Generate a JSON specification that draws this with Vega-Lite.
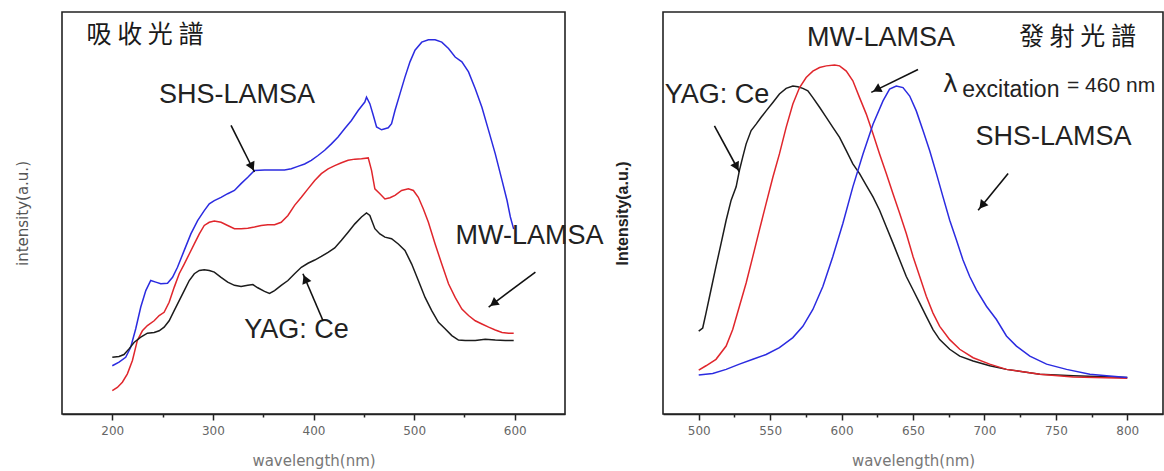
{
  "$schema": "https://vega.github.io/schema/vega-lite/v6.json",
  "background": "white",
  "padding": {"left": 14, "top": 11, "right": 0, "bottom": 0},
  "spacing": 98,
  "bounds": "flush",
  "config": {
    "view": {"stroke": "#222", "strokeWidth": 1.6},
    "axis": {"grid": false},
    "axisX": {
      "domainColor": "#222", "domainWidth": 1.6, "tickColor": "#222", "tickWidth": 1.5,
      "labelFont": "DejaVu Sans", "labelFontSize": 12, "labelColor": "#666", "labelPadding": 5,
      "titleFont": "DejaVu Sans", "titleFontSize": 15, "titleFontWeight": "normal", "titleColor": "#777", "titlePadding": 17
    },
    "axisY": {"domain": false, "ticks": false, "labels": false}
  },
  "datasets": {
    "absorb": [
      {"s":"SHS","x":200.0,"y":12.0},{"s":"SHS","x":206.7,"y":12.9},{"s":"SHS","x":213.3,"y":14.1},{"s":"SHS","x":218.3,"y":16.6},{"s":"SHS","x":223.3,"y":21.2},{"s":"SHS","x":228.3,"y":26.6},{"s":"SHS","x":233.3,"y":30.7},{"s":"SHS","x":238.2,"y":33.2},{"s":"SHS","x":243.2,"y":32.8},{"s":"SHS","x":248.2,"y":32.4},{"s":"SHS","x":254.9,"y":32.5},{"s":"SHS","x":259.9,"y":34.0},{"s":"SHS","x":264.8,"y":36.5},{"s":"SHS","x":271.5,"y":40.7},{"s":"SHS","x":278.1,"y":44.8},{"s":"SHS","x":284.8,"y":48.1},{"s":"SHS","x":291.4,"y":50.6},{"s":"SHS","x":296.4,"y":52.3},{"s":"SHS","x":301.4,"y":53.1},{"s":"SHS","x":308.1,"y":53.9},{"s":"SHS","x":314.7,"y":54.8},{"s":"SHS","x":321.4,"y":55.6},{"s":"SHS","x":328.0,"y":57.3},{"s":"SHS","x":334.7,"y":58.9},{"s":"SHS","x":341.3,"y":60.6},{"s":"SHS","x":351.3,"y":60.7},{"s":"SHS","x":361.3,"y":60.7},{"s":"SHS","x":371.2,"y":60.7},{"s":"SHS","x":377.9,"y":61.0},{"s":"SHS","x":384.5,"y":61.6},{"s":"SHS","x":391.2,"y":62.2},{"s":"SHS","x":397.8,"y":63.1},{"s":"SHS","x":404.5,"y":64.3},{"s":"SHS","x":411.1,"y":65.6},{"s":"SHS","x":417.8,"y":67.2},{"s":"SHS","x":424.4,"y":68.9},{"s":"SHS","x":431.1,"y":71.0},{"s":"SHS","x":437.7,"y":73.0},{"s":"SHS","x":444.4,"y":75.5},{"s":"SHS","x":451.0,"y":77.6},{"s":"SHS","x":452.7,"y":78.8},{"s":"SHS","x":456.0,"y":77.2},{"s":"SHS","x":459.4,"y":74.3},{"s":"SHS","x":462.7,"y":71.4},{"s":"SHS","x":467.7,"y":70.7},{"s":"SHS","x":474.3,"y":71.2},{"s":"SHS","x":477.6,"y":72.2},{"s":"SHS","x":481.0,"y":75.5},{"s":"SHS","x":486.0,"y":79.7},{"s":"SHS","x":490.9,"y":83.8},{"s":"SHS","x":495.9,"y":87.6},{"s":"SHS","x":500.9,"y":90.5},{"s":"SHS","x":507.6,"y":92.5},{"s":"SHS","x":514.2,"y":93.1},{"s":"SHS","x":520.9,"y":93.1},{"s":"SHS","x":527.5,"y":92.5},{"s":"SHS","x":534.2,"y":90.9},{"s":"SHS","x":540.8,"y":88.8},{"s":"SHS","x":547.5,"y":87.6},{"s":"SHS","x":554.1,"y":85.1},{"s":"SHS","x":560.8,"y":80.9},{"s":"SHS","x":567.4,"y":76.3},{"s":"SHS","x":574.1,"y":70.5},{"s":"SHS","x":580.7,"y":64.7},{"s":"SHS","x":587.4,"y":58.1},{"s":"SHS","x":592.4,"y":53.1},{"s":"SHS","x":595.7,"y":49.0},{"s":"SHS","x":599.0,"y":46.0},
      {"s":"MW","x":200.0,"y":5.8},{"s":"MW","x":205.0,"y":6.6},{"s":"MW","x":210.0,"y":7.9},{"s":"MW","x":215.0,"y":10.0},{"s":"MW","x":220.0,"y":13.3},{"s":"MW","x":224.9,"y":18.3},{"s":"MW","x":229.9,"y":20.7},{"s":"MW","x":234.9,"y":22.0},{"s":"MW","x":241.6,"y":23.2},{"s":"MW","x":246.6,"y":24.5},{"s":"MW","x":251.5,"y":25.3},{"s":"MW","x":256.5,"y":27.8},{"s":"MW","x":261.5,"y":31.5},{"s":"MW","x":266.5,"y":34.9},{"s":"MW","x":271.5,"y":37.3},{"s":"MW","x":276.5,"y":39.8},{"s":"MW","x":281.5,"y":42.3},{"s":"MW","x":286.5,"y":44.8},{"s":"MW","x":291.4,"y":46.9},{"s":"MW","x":296.4,"y":47.7},{"s":"MW","x":301.4,"y":48.0},{"s":"MW","x":308.1,"y":47.7},{"s":"MW","x":314.7,"y":46.9},{"s":"MW","x":321.4,"y":46.1},{"s":"MW","x":328.0,"y":46.1},{"s":"MW","x":334.7,"y":46.2},{"s":"MW","x":341.3,"y":46.5},{"s":"MW","x":348.0,"y":46.9},{"s":"MW","x":354.6,"y":47.1},{"s":"MW","x":361.3,"y":47.1},{"s":"MW","x":367.9,"y":47.7},{"s":"MW","x":374.6,"y":49.4},{"s":"MW","x":381.2,"y":51.9},{"s":"MW","x":387.9,"y":53.9},{"s":"MW","x":394.5,"y":56.0},{"s":"MW","x":401.2,"y":58.1},{"s":"MW","x":407.8,"y":59.8},{"s":"MW","x":414.5,"y":61.0},{"s":"MW","x":421.1,"y":61.8},{"s":"MW","x":427.8,"y":62.5},{"s":"MW","x":434.4,"y":63.1},{"s":"MW","x":441.1,"y":63.4},{"s":"MW","x":447.7,"y":63.5},{"s":"MW","x":454.4,"y":63.7},{"s":"MW","x":457.7,"y":60.6},{"s":"MW","x":461.0,"y":56.0},{"s":"MW","x":466.0,"y":54.8},{"s":"MW","x":471.0,"y":53.5},{"s":"MW","x":476.0,"y":53.8},{"s":"MW","x":481.0,"y":54.4},{"s":"MW","x":487.6,"y":55.6},{"s":"MW","x":494.3,"y":56.0},{"s":"MW","x":499.3,"y":55.6},{"s":"MW","x":504.2,"y":53.9},{"s":"MW","x":509.2,"y":51.0},{"s":"MW","x":514.2,"y":47.7},{"s":"MW","x":520.9,"y":42.3},{"s":"MW","x":527.5,"y":37.3},{"s":"MW","x":534.2,"y":32.4},{"s":"MW","x":540.8,"y":29.0},{"s":"MW","x":547.5,"y":26.1},{"s":"MW","x":554.1,"y":24.5},{"s":"MW","x":560.8,"y":23.2},{"s":"MW","x":567.4,"y":22.4},{"s":"MW","x":574.1,"y":21.6},{"s":"MW","x":580.7,"y":20.9},{"s":"MW","x":587.4,"y":20.3},{"s":"MW","x":594.0,"y":20.1},{"s":"MW","x":599.0,"y":20.1},
      {"s":"YAG","x":200.0,"y":14.1},{"s":"YAG","x":206.7,"y":14.3},{"s":"YAG","x":211.6,"y":14.8},{"s":"YAG","x":216.6,"y":16.2},{"s":"YAG","x":221.6,"y":17.8},{"s":"YAG","x":228.3,"y":19.1},{"s":"YAG","x":234.9,"y":20.1},{"s":"YAG","x":241.6,"y":20.3},{"s":"YAG","x":246.6,"y":20.7},{"s":"YAG","x":251.5,"y":21.6},{"s":"YAG","x":256.5,"y":23.2},{"s":"YAG","x":261.5,"y":25.7},{"s":"YAG","x":266.5,"y":28.2},{"s":"YAG","x":271.5,"y":30.7},{"s":"YAG","x":276.5,"y":33.2},{"s":"YAG","x":281.5,"y":34.9},{"s":"YAG","x":286.5,"y":35.7},{"s":"YAG","x":291.4,"y":35.9},{"s":"YAG","x":296.4,"y":35.7},{"s":"YAG","x":301.4,"y":35.3},{"s":"YAG","x":308.1,"y":34.0},{"s":"YAG","x":314.7,"y":32.8},{"s":"YAG","x":321.4,"y":32.0},{"s":"YAG","x":328.0,"y":31.7},{"s":"YAG","x":334.7,"y":32.0},{"s":"YAG","x":339.7,"y":32.2},{"s":"YAG","x":344.6,"y":31.4},{"s":"YAG","x":351.3,"y":30.5},{"s":"YAG","x":356.3,"y":30.0},{"s":"YAG","x":361.3,"y":30.7},{"s":"YAG","x":367.9,"y":32.0},{"s":"YAG","x":374.6,"y":33.2},{"s":"YAG","x":381.2,"y":34.9},{"s":"YAG","x":387.9,"y":36.5},{"s":"YAG","x":394.5,"y":37.5},{"s":"YAG","x":401.2,"y":38.3},{"s":"YAG","x":407.8,"y":39.2},{"s":"YAG","x":414.5,"y":40.2},{"s":"YAG","x":421.1,"y":41.3},{"s":"YAG","x":427.8,"y":43.2},{"s":"YAG","x":434.4,"y":45.2},{"s":"YAG","x":441.1,"y":47.3},{"s":"YAG","x":447.7,"y":49.0},{"s":"YAG","x":452.7,"y":50.0},{"s":"YAG","x":456.0,"y":49.4},{"s":"YAG","x":461.0,"y":46.1},{"s":"YAG","x":466.0,"y":44.8},{"s":"YAG","x":471.0,"y":44.0},{"s":"YAG","x":477.6,"y":43.6},{"s":"YAG","x":484.3,"y":42.3},{"s":"YAG","x":490.9,"y":40.7},{"s":"YAG","x":497.6,"y":37.3},{"s":"YAG","x":504.2,"y":33.2},{"s":"YAG","x":510.9,"y":29.0},{"s":"YAG","x":517.5,"y":25.7},{"s":"YAG","x":524.2,"y":22.8},{"s":"YAG","x":530.8,"y":21.2},{"s":"YAG","x":537.5,"y":19.5},{"s":"YAG","x":544.1,"y":18.4},{"s":"YAG","x":550.8,"y":18.3},{"s":"YAG","x":560.8,"y":18.3},{"s":"YAG","x":570.7,"y":18.6},{"s":"YAG","x":580.7,"y":18.4},{"s":"YAG","x":590.7,"y":18.3},{"s":"YAG","x":599.0,"y":18.3}
    ],
    "emit": [
      {"s":"YAG","x":500.0,"y":20.6},{"s":"YAG","x":502.8,"y":21.4},{"s":"YAG","x":505.1,"y":25.1},{"s":"YAG","x":508.6,"y":30.9},{"s":"YAG","x":512.1,"y":36.7},{"s":"YAG","x":515.7,"y":42.5},{"s":"YAG","x":519.2,"y":48.2},{"s":"YAG","x":522.7,"y":53.2},{"s":"YAG","x":526.2,"y":56.5},{"s":"YAG","x":528.5,"y":60.6},{"s":"YAG","x":530.8,"y":63.9},{"s":"YAG","x":533.2,"y":67.2},{"s":"YAG","x":536.7,"y":70.5},{"s":"YAG","x":540.2,"y":72.1},{"s":"YAG","x":543.7,"y":73.8},{"s":"YAG","x":547.2,"y":75.4},{"s":"YAG","x":551.9,"y":77.5},{"s":"YAG","x":556.5,"y":79.6},{"s":"YAG","x":561.2,"y":81.0},{"s":"YAG","x":565.9,"y":81.6},{"s":"YAG","x":569.4,"y":81.4},{"s":"YAG","x":572.9,"y":81.0},{"s":"YAG","x":576.4,"y":80.4},{"s":"YAG","x":579.9,"y":78.7},{"s":"YAG","x":584.6,"y":76.3},{"s":"YAG","x":589.3,"y":73.8},{"s":"YAG","x":593.9,"y":71.3},{"s":"YAG","x":598.6,"y":68.8},{"s":"YAG","x":603.3,"y":65.5},{"s":"YAG","x":607.9,"y":62.2},{"s":"YAG","x":612.6,"y":59.8},{"s":"YAG","x":617.3,"y":56.9},{"s":"YAG","x":622.0,"y":54.0},{"s":"YAG","x":626.6,"y":50.7},{"s":"YAG","x":631.3,"y":46.6},{"s":"YAG","x":636.0,"y":42.5},{"s":"YAG","x":640.7,"y":38.3},{"s":"YAG","x":645.3,"y":34.2},{"s":"YAG","x":650.0,"y":30.9},{"s":"YAG","x":654.7,"y":27.6},{"s":"YAG","x":659.3,"y":24.3},{"s":"YAG","x":664.0,"y":21.0},{"s":"YAG","x":668.7,"y":18.5},{"s":"YAG","x":675.7,"y":16.1},{"s":"YAG","x":682.7,"y":14.4},{"s":"YAG","x":692.1,"y":13.2},{"s":"YAG","x":703.7,"y":12.0},{"s":"YAG","x":715.4,"y":11.1},{"s":"YAG","x":738.8,"y":9.9},{"s":"YAG","x":762.1,"y":9.5},{"s":"YAG","x":800.0,"y":9.1},
      {"s":"MW","x":500.0,"y":10.9},{"s":"MW","x":505.1,"y":12.0},{"s":"MW","x":512.1,"y":13.6},{"s":"MW","x":519.2,"y":16.9},{"s":"MW","x":523.8,"y":21.0},{"s":"MW","x":528.5,"y":26.8},{"s":"MW","x":533.2,"y":32.6},{"s":"MW","x":537.9,"y":39.2},{"s":"MW","x":542.5,"y":45.8},{"s":"MW","x":547.2,"y":52.4},{"s":"MW","x":551.9,"y":58.9},{"s":"MW","x":556.5,"y":64.7},{"s":"MW","x":561.2,"y":71.3},{"s":"MW","x":565.9,"y":77.1},{"s":"MW","x":570.6,"y":81.2},{"s":"MW","x":575.2,"y":83.7},{"s":"MW","x":579.9,"y":85.3},{"s":"MW","x":584.6,"y":86.2},{"s":"MW","x":589.3,"y":86.6},{"s":"MW","x":595.1,"y":86.8},{"s":"MW","x":598.6,"y":86.6},{"s":"MW","x":603.3,"y":85.3},{"s":"MW","x":607.9,"y":82.9},{"s":"MW","x":612.6,"y":78.7},{"s":"MW","x":617.3,"y":74.6},{"s":"MW","x":622.0,"y":69.7},{"s":"MW","x":626.6,"y":64.7},{"s":"MW","x":631.3,"y":59.8},{"s":"MW","x":636.0,"y":54.8},{"s":"MW","x":640.7,"y":49.9},{"s":"MW","x":645.3,"y":44.9},{"s":"MW","x":650.0,"y":39.2},{"s":"MW","x":654.7,"y":34.2},{"s":"MW","x":659.3,"y":29.3},{"s":"MW","x":664.0,"y":25.1},{"s":"MW","x":668.7,"y":21.8},{"s":"MW","x":675.7,"y":18.5},{"s":"MW","x":682.7,"y":16.1},{"s":"MW","x":692.1,"y":14.0},{"s":"MW","x":703.7,"y":12.4},{"s":"MW","x":715.4,"y":11.1},{"s":"MW","x":738.8,"y":9.9},{"s":"MW","x":762.1,"y":9.2},{"s":"MW","x":800.0,"y":8.9},
      {"s":"SHS","x":500.0,"y":9.7},{"s":"SHS","x":509.8,"y":10.1},{"s":"SHS","x":519.2,"y":11.1},{"s":"SHS","x":528.5,"y":12.4},{"s":"SHS","x":537.9,"y":13.6},{"s":"SHS","x":547.2,"y":14.8},{"s":"SHS","x":556.5,"y":16.5},{"s":"SHS","x":565.9,"y":19.0},{"s":"SHS","x":572.9,"y":21.8},{"s":"SHS","x":579.9,"y":26.0},{"s":"SHS","x":586.9,"y":31.7},{"s":"SHS","x":593.9,"y":39.2},{"s":"SHS","x":600.9,"y":47.4},{"s":"SHS","x":607.9,"y":56.5},{"s":"SHS","x":615.0,"y":64.7},{"s":"SHS","x":622.0,"y":72.1},{"s":"SHS","x":629.0,"y":77.9},{"s":"SHS","x":633.6,"y":80.8},{"s":"SHS","x":638.3,"y":81.6},{"s":"SHS","x":643.0,"y":81.2},{"s":"SHS","x":647.7,"y":79.1},{"s":"SHS","x":652.3,"y":75.4},{"s":"SHS","x":657.0,"y":70.5},{"s":"SHS","x":661.7,"y":65.5},{"s":"SHS","x":666.4,"y":59.8},{"s":"SHS","x":671.0,"y":54.0},{"s":"SHS","x":675.7,"y":48.2},{"s":"SHS","x":680.4,"y":43.3},{"s":"SHS","x":685.0,"y":38.3},{"s":"SHS","x":689.7,"y":34.2},{"s":"SHS","x":694.4,"y":30.9},{"s":"SHS","x":701.4,"y":26.8},{"s":"SHS","x":708.4,"y":23.5},{"s":"SHS","x":715.4,"y":19.4},{"s":"SHS","x":722.4,"y":16.9},{"s":"SHS","x":731.8,"y":14.4},{"s":"SHS","x":743.5,"y":12.4},{"s":"SHS","x":757.5,"y":11.1},{"s":"SHS","x":773.8,"y":9.9},{"s":"SHS","x":785.5,"y":9.5},{"s":"SHS","x":800.0,"y":9.1}
    ],
    "labL": [
      {"t":"SHS-LAMSA","x":324,"y":79.4},
      {"t":"MW-LAMSA","x":614.7,"y":44.3},
      {"t":"YAG: Ce","x":383.1,"y":20.9}
    ],
    "labR": [
      {"t":"MW-LAMSA","x":627.6,"y":93.5},
      {"t":"YAG: Ce","x":512.8,"y":79.4},
      {"t":"SHS-LAMSA","x":748.3,"y":68.9}
    ],
    "arrL": [
      {"a":"SHS","x":318.0,"y":71.8,"x2":341.3,"y2":60.2,"hx":338.8,"hy":61.5},
      {"a":"YAG","x":409.5,"y":23.2,"x2":389.5,"y2":34.9,"hx":391.8,"hy":33.6},
      {"a":"MW","x":620.6,"y":35.3,"x2":574.1,"y2":26.6,"hx":578.9,"hy":27.5}
    ],
    "arrR": [
      {"a":"MW","x":653.5,"y":85.7,"x2":620.8,"y2":80.0,"hx":624.6,"hy":80.7},
      {"a":"YAG","x":511.0,"y":71.7,"x2":528.5,"y2":60.2,"hx":526.5,"hy":61.5},
      {"a":"SHS","x":716.6,"y":59.8,"x2":695.6,"y2":50.7,"hx":698.3,"hy":51.9}
    ]
  },
  "hconcat": [
    {
      "width": 503,
      "height": 402,
      "layer": [
        {
          "data": {"name": "absorb"},
          "mark": {"type": "line", "strokeWidth": 1.5, "clip": true},
          "encoding": {
            "x": {"field": "x", "type": "quantitative", "scale": {"domain": [150, 650], "nice": false, "zero": false},
              "axis": {"title": "wavelength(nm)", "values": [200,250,300,350,400,450,500,550,600],
                "labelExpr": "datum.value % 100 === 0 ? datum.label : ''",
                "tickSize": {"condition": {"test": "datum.value % 100 === 0", "value": 6}, "value": 3}}},
            "y": {"field": "y", "type": "quantitative", "scale": {"domain": [0, 100], "nice": false},
              "axis": {"title": "intensity(a.u.)", "titleFont": "DejaVu Sans", "titleFontSize": 15, "titleFontWeight": "normal", "titleColor": "#555", "titlePadding": 32}},
            "color": {"field": "s", "type": "nominal", "scale": {"domain": ["SHS","MW","YAG"], "range": ["#2b2be0","#e0262c","#1c1c1c"]}, "legend": null}
          }
        },
        {
          "data": {"values": [{"t": "吸 收 光 譜", "x": 232.5, "y": 94.3}]},
          "mark": {"type": "text", "font": "Noto Sans CJK TC", "fontSize": 25, "color": "#1a1a1a", "align": "center", "baseline": "middle"},
          "encoding": {"x": {"field": "x", "type": "quantitative"}, "y": {"field": "y", "type": "quantitative"}, "text": {"field": "t"}}
        },
        {
          "data": {"name": "labL"},
          "mark": {"type": "text", "font": "Liberation Sans", "fontSize": 27, "color": "#222", "align": "center", "baseline": "middle"},
          "encoding": {"x": {"field": "x", "type": "quantitative"}, "y": {"field": "y", "type": "quantitative"}, "text": {"field": "t"}}
        },
        {
          "data": {"name": "arrL"},
          "mark": {"type": "rule", "color": "#111", "strokeWidth": 1.6},
          "encoding": {"x": {"field": "x", "type": "quantitative"}, "y": {"field": "y", "type": "quantitative"}, "x2": {"field": "x2"}, "y2": {"field": "y2"}}
        },
        {
          "data": {"name": "arrL"},
          "transform": [{"filter": "datum.a === 'SHS'"}],
          "mark": {"type": "point", "shape": "triangle-up", "filled": true, "color": "#111", "opacity": 1, "size": 95, "angle": 154},
          "encoding": {"x": {"field": "hx", "type": "quantitative"}, "y": {"field": "hy", "type": "quantitative"}}
        },
        {
          "data": {"name": "arrL"},
          "transform": [{"filter": "datum.a === 'YAG'"}],
          "mark": {"type": "point", "shape": "triangle-up", "filled": true, "color": "#111", "opacity": 1, "size": 95, "angle": -23},
          "encoding": {"x": {"field": "hx", "type": "quantitative"}, "y": {"field": "hy", "type": "quantitative"}}
        },
        {
          "data": {"name": "arrL"},
          "transform": [{"filter": "datum.a === 'MW'"}],
          "mark": {"type": "point", "shape": "triangle-up", "filled": true, "color": "#111", "opacity": 1, "size": 95, "angle": -127},
          "encoding": {"x": {"field": "hx", "type": "quantitative"}, "y": {"field": "hy", "type": "quantitative"}}
        }
      ]
    },
    {
      "width": 500,
      "height": 402,
      "layer": [
        {
          "data": {"name": "emit"},
          "mark": {"type": "line", "strokeWidth": 1.5, "clip": true},
          "encoding": {
            "x": {"field": "x", "type": "quantitative", "scale": {"domain": [475, 825], "nice": false, "zero": false},
              "axis": {"title": "wavelength(nm)", "values": [500,525,550,575,600,625,650,675,700,725,750,775,800],
                "labelExpr": "datum.value % 50 === 0 ? datum.label : ''",
                "tickSize": {"condition": {"test": "datum.value % 50 === 0", "value": 6}, "value": 3}}},
            "y": {"field": "y", "type": "quantitative", "scale": {"domain": [0, 100], "nice": false},
              "axis": {"title": "Intensity(a.u.)", "titleFont": "Liberation Sans", "titleFontSize": 16, "titleFontWeight": "bold", "titleColor": "#222", "titlePadding": 33}},
            "color": {"field": "s", "type": "nominal", "scale": {"domain": ["SHS","MW","YAG"], "range": ["#2b2be0","#e0262c","#1c1c1c"]}, "legend": null}
          }
        },
        {
          "data": {"values": [{"t": "發 射 光 譜", "x": 765.2, "y": 93.8}]},
          "mark": {"type": "text", "font": "Noto Sans CJK TC", "fontSize": 25, "color": "#1a1a1a", "align": "center", "baseline": "middle"},
          "encoding": {"x": {"field": "x", "type": "quantitative"}, "y": {"field": "y", "type": "quantitative"}, "text": {"field": "t"}}
        },
        {
          "data": {"name": "labR"},
          "mark": {"type": "text", "font": "Liberation Sans", "fontSize": 27, "color": "#222", "align": "center", "baseline": "middle"},
          "encoding": {"x": {"field": "x", "type": "quantitative"}, "y": {"field": "y", "type": "quantitative"}, "text": {"field": "t"}}
        },
        {
          "data": {"values": [{"t": "λ", "x": 671.0, "y": 80.1}]},
          "mark": {"type": "text", "font": "DejaVu Sans", "fontSize": 25, "color": "#222", "align": "left", "baseline": "alphabetic"},
          "encoding": {"x": {"field": "x", "type": "quantitative"}, "y": {"field": "y", "type": "quantitative"}, "text": {"field": "t"}}
        },
        {
          "data": {"values": [{"t": "excitation", "x": 684.5, "y": 78.9}]},
          "mark": {"type": "text", "font": "Liberation Sans", "fontSize": 23, "color": "#222", "align": "left", "baseline": "alphabetic"},
          "encoding": {"x": {"field": "x", "type": "quantitative"}, "y": {"field": "y", "type": "quantitative"}, "text": {"field": "t"}}
        },
        {
          "data": {"values": [{"t": "= 460 nm", "x": 757.8, "y": 80.1}]},
          "mark": {"type": "text", "font": "Liberation Sans", "fontSize": 21, "color": "#222", "align": "left", "baseline": "alphabetic"},
          "encoding": {"x": {"field": "x", "type": "quantitative"}, "y": {"field": "y", "type": "quantitative"}, "text": {"field": "t"}}
        },
        {
          "data": {"name": "arrR"},
          "mark": {"type": "rule", "color": "#111", "strokeWidth": 1.6},
          "encoding": {"x": {"field": "x", "type": "quantitative"}, "y": {"field": "y", "type": "quantitative"}, "x2": {"field": "x2"}, "y2": {"field": "y2"}}
        },
        {
          "data": {"name": "arrR"},
          "transform": [{"filter": "datum.a === 'MW'"}],
          "mark": {"type": "point", "shape": "triangle-up", "filled": true, "color": "#111", "opacity": 1, "size": 95, "angle": -118},
          "encoding": {"x": {"field": "hx", "type": "quantitative"}, "y": {"field": "hy", "type": "quantitative"}}
        },
        {
          "data": {"name": "arrR"},
          "transform": [{"filter": "datum.a === 'YAG'"}],
          "mark": {"type": "point", "shape": "triangle-up", "filled": true, "color": "#111", "opacity": 1, "size": 95, "angle": 152},
          "encoding": {"x": {"field": "hx", "type": "quantitative"}, "y": {"field": "hy", "type": "quantitative"}}
        },
        {
          "data": {"name": "arrR"},
          "transform": [{"filter": "datum.a === 'SHS'"}],
          "mark": {"type": "point", "shape": "triangle-up", "filled": true, "color": "#111", "opacity": 1, "size": 95, "angle": -141},
          "encoding": {"x": {"field": "hx", "type": "quantitative"}, "y": {"field": "hy", "type": "quantitative"}}
        }
      ]
    }
  ]
}
